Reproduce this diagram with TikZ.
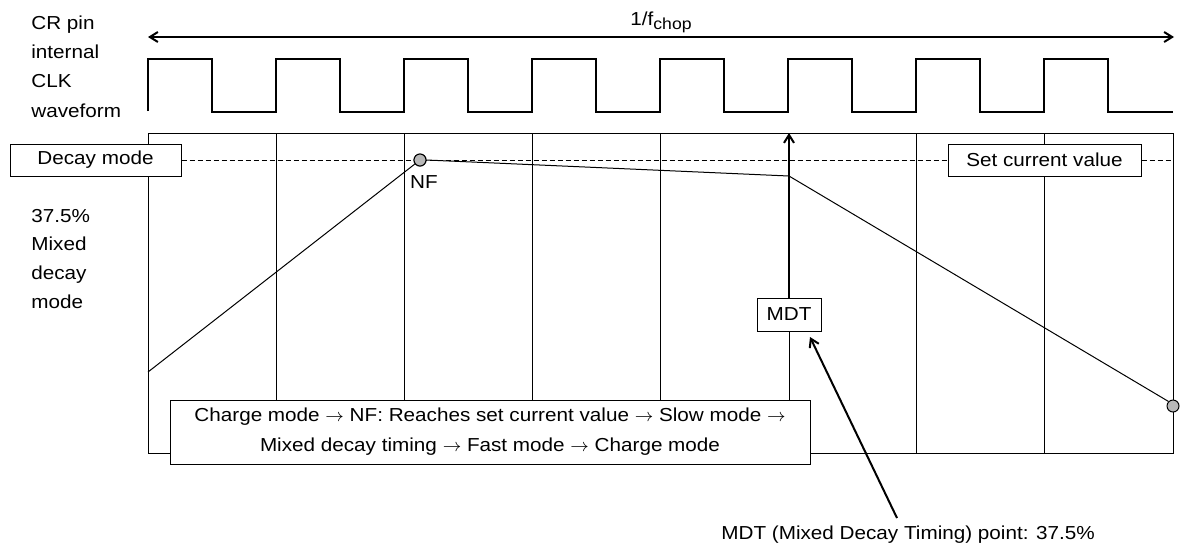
\documentclass[tikz,border=0pt]{standalone}
\usepackage{fontspec}
\setmainfont{Liberation Sans}[FakeStretch=1.1]
\usetikzlibrary{arrows.meta,calc}
\begin{document}
\begin{tikzpicture}[x=0.5pt,y=-0.5pt,
  every node/.style={font=\fontsize{9.4}{15}\selectfont, inner sep=0pt},
  lbl/.style={anchor=base west},
  box/.style={draw, fill=white, line width=0.5pt, align=center},
  gridline/.style={line width=0.5pt},
  heavy/.style={line width=1pt},
  barb/.style={-{Straight Barb[length=4pt,width=5pt]}},
  dot/.style={circle, draw, fill=black!28, minimum size=6pt, line width=0.5pt},
  dashline/.style={line width=0.5pt, dash pattern=on 2.5pt off 1.5pt}
]
\useasboundingbox (0,0) rectangle (1182,554);

% left labels
\node[lbl] (l1) at (31,29) {CR pin};
\node[lbl] (l2) at (31,58) {internal};
\node[lbl] (l3) at (31,87) {CLK};
\node[lbl] (l4) at (31,117) {waveform};
\node[lbl] (m1) at (31,222) {37.5\%};
\node[lbl] (m2) at (31,250) {Mixed};
\node[lbl] (m3) at (31,279) {decay};
\node[lbl] (m4) at (31,308) {mode};

% period arrow
\coordinate (pl) at (148,37);
\coordinate (pr) at (1174,37);
\draw[heavy,{Straight Barb[length=4pt,width=5pt]}-{Straight Barb[length=4pt,width=5pt]}] (pl) -- (pr);
\node[anchor=base] (fchop) at (661,25) {1/f\raisebox{-2.2pt}{\fontsize{8}{9}\selectfont chop}};

% clock waveform
\draw[heavy] (148,111) foreach \k in {0,...,7} { -- ({148+128*\k},59) -- ({212+128*\k},59) -- ({212+128*\k},112) -- ({276+128*\k},112) } -- (1173,112);

% grid
\draw[gridline] (148,133) rectangle (1173,453);
\foreach \xx in {276,404,532,660,916,1044} {
  \draw[gridline] (\xx,133) -- (\xx,453);
}

% dashed set-current line
\node[box, minimum width=85.5pt, minimum height=16pt] (decay) at (95.5,160) {Decay mode};
\coordinate (dashend) at (1173,160);
\draw[dashline] (decay.east) -- (dashend);
\node[box, minimum width=96.5pt, minimum height=16pt] (setcur) at (1044.5,160) {Set current value};

% MDT
\node[box, minimum width=32pt, minimum height=16.5pt] (mdt) at (789,314.5) {MDT};
\coordinate (mdttop) at (789,133);
\coordinate (mdtbot) at (789,400);
\draw[heavy,barb] (mdt.north) -- (mdttop);
\draw[gridline] (mdt.south) -- (mdtbot);

% current waveform
\coordinate (start) at (148,372);
\coordinate (mdtpt) at (789,176);
\node[dot] (nf) at (420,160) {};
\node[dot] (endpt) at (1173,406) {};
\draw[gridline] (start) -- (nf.center);
\draw[gridline] (nf.east) -- (mdtpt) -- (endpt.north west);
\node[dot] at (nf.center) {};
\node (nflbl) at (424,182) {NF};

% sequence box
\node[box, minimum width=320pt, minimum height=32pt] (seq) at (490,432)
  {Charge mode $\rightarrow$ NF: Reaches set current value $\rightarrow$ Slow mode $\rightarrow$\\
   Mixed decay timing $\rightarrow$ Fast mode $\rightarrow$ Charge mode};

% bottom pointer
\node[lbl] (mdtnote) at (721,539) {MDT (Mixed Decay Timing) point: 37.5\%};
\coordinate (ptail) at (897,518);
\coordinate (phead) at (810,337);
\draw[heavy,barb] (ptail) -- (phead);
\end{tikzpicture}
\end{document}
